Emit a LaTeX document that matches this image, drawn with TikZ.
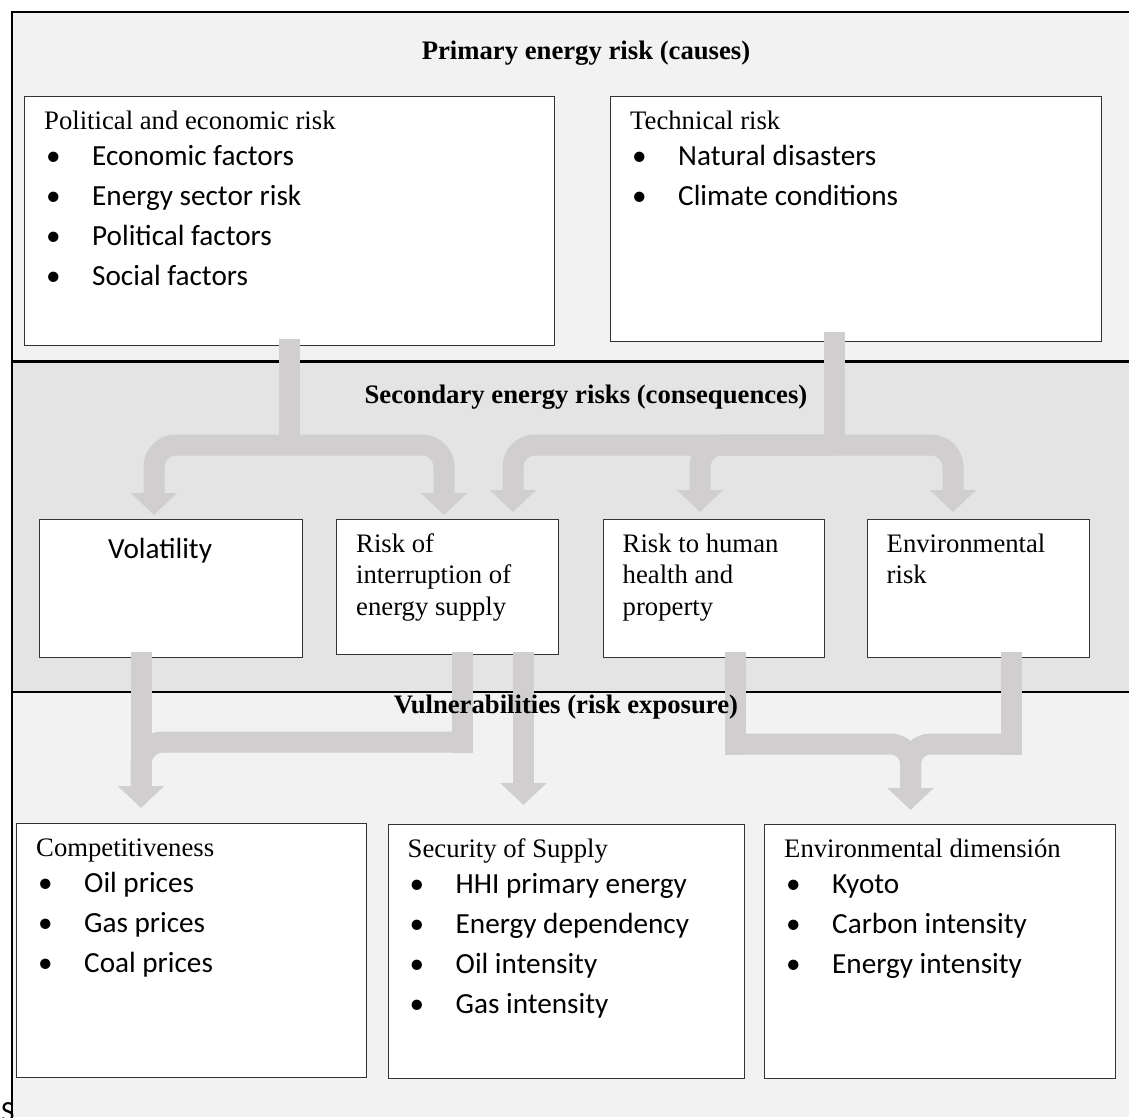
\documentclass[tikz,border=0pt]{standalone}
\usepackage{fontspec}
\setmainfont{Liberation Serif}
\newfontfamily\calibri{Carlito}
\usetikzlibrary{calc,arrows.meta}
\definecolor{flowgray}{RGB}{208,206,206}
\definecolor{bandlight}{RGB}{242,242,242}
\definecolor{banddark}{RGB}{228,228,228}
\tikzset{
  frame/.style={line width=2.3pt, black},
  riskbox/.style={draw=black!80, line width=1.1pt, fill=white, anchor=north west, inner sep=0pt},
  head/.style={anchor=base west, inner sep=0pt, font=\fontsize{26.7}{31.7}\selectfont},
  item/.style={anchor=base west, inner sep=0pt, font=\calibri\fontsize{29.2}{40}\selectfont},
  title/.style={anchor=base, inner sep=0pt, font=\fontsize{26.7}{31.7}\selectfont\bfseries},
  flow/.style={draw=flowgray, line width=21pt},
  tip/.style={-{Triangle[width=45pt,length=22pt]}}
}
\begin{document}
\begin{tikzpicture}[x=1pt,y=-1pt]
\useasboundingbox (0,0) rectangle (1129,1117);
\fill[bandlight] (12,12) rectangle (1129,361.5);
\fill[banddark] (12,361.5) rectangle (1129,692);
\fill[bandlight] (12,692) rectangle (1129,1117);
\draw[frame] (12,1117) -- (12,12) -- (1129,12);
\draw[frame] (12,361.5) -- (1129,361.5);
\draw[frame] (12,692) -- (1129,692);
\node[item, font=\calibri\fontsize{29.2}{40}\selectfont] (src) at (1,1121) {S};

\node[riskbox, minimum width=530pt, minimum height=249pt] (pe) at (24,96) {};
\node[head] (pe-head) at ($(pe.north west)+(20,33)$) {Political and economic risk};
\foreach \txt [count=\i from 0] in {Economic factors, Energy sector risk, Political factors, Social factors}
  \node[item] (pe-\i) at ($(pe.north west)+(22,69+40*\i)$) {\makebox[46pt][l]{\textbullet}\txt};

\node[riskbox, minimum width=491pt, minimum height=245pt] (tech) at (610,96) {};
\node[head] (tech-head) at ($(tech.north west)+(20,33)$) {Technical risk};
\foreach \txt [count=\i from 0] in {Natural disasters, Climate conditions}
  \node[item] (tech-\i) at ($(tech.north west)+(22,69+40*\i)$) {\makebox[46pt][l]{\textbullet}\txt};

\node[riskbox, minimum width=263pt, minimum height=138pt] (vol) at (39,519) {};
\node[item] (vol-head) at ($(vol.north west)+(69,39)$) {Volatility};
\node[riskbox, minimum width=222pt, minimum height=135pt] (intr) at (336,519) {};
\foreach \txt [count=\i from 0] in {Risk of, interruption of, energy supply}
  \node[head] (intr-\i) at ($(intr.north west)+(20,33+31.7*\i)$) {\txt};
\node[riskbox, minimum width=221.5pt, minimum height=138pt] (hum) at (602.5,519) {};
\foreach \txt [count=\i from 0] in {Risk to human, health and, property}
  \node[head] (hum-\i) at ($(hum.north west)+(20,33+31.7*\i)$) {\txt};
\node[riskbox, minimum width=222pt, minimum height=138pt] (env) at (866.5,519) {};
\foreach \txt [count=\i from 0] in {Environmental, risk}
  \node[head] (env-\i) at ($(env.north west)+(20,33+31.7*\i)$) {\txt};

\node[riskbox, minimum width=350pt, minimum height=254pt] (comp) at (16,823) {};
\node[head] (comp-head) at ($(comp.north west)+(20,33)$) {Competitiveness};
\foreach \txt [count=\i from 0] in {Oil prices, Gas prices, Coal prices}
  \node[item] (comp-\i) at ($(comp.north west)+(22,69+40*\i)$) {\makebox[46pt][l]{\textbullet}\txt};
\node[riskbox, minimum width=356.5pt, minimum height=254pt] (sec) at (387.5,824) {};
\node[head] (sec-head) at ($(sec.north west)+(20,33)$) {Security of Supply};
\foreach \txt [count=\i from 0] in {HHI primary energy, Energy dependency, Oil intensity, Gas intensity}
  \node[item] (sec-\i) at ($(sec.north west)+(22,69+40*\i)$) {\makebox[46pt][l]{\textbullet}\txt};
\node[riskbox, minimum width=350.5pt, minimum height=254pt] (envd) at (764,824) {};
\node[head] (envd-head) at ($(envd.north west)+(20,33)$) {Environmental dimensión};
\foreach \txt [count=\i from 0] in {Kyoto, Carbon intensity, Energy intensity}
  \node[item] (envd-\i) at ($(envd.north west)+(22,69+40*\i)$) {\makebox[46pt][l]{\textbullet}\txt};

\coordinate (pe-out) at (289,339);
\coordinate (pe-hub) at (289,445);
\coordinate (vol-top) at (154,515);
\coordinate (intr-top1) at (444,515);
\coordinate (tech-out) at (834,332);
\coordinate (tech-hub) at (834,445);
\coordinate (intr-top2) at (513,512);
\coordinate (hum-top) at (700,512);
\coordinate (env-top) at (953,512);
\draw[flow] (pe-out) -- (pe-hub);
\draw[flow, tip, rounded corners=22pt] (pe-hub) -| (vol-top);
\draw[flow, tip, rounded corners=22pt] (pe-hub) -| (intr-top1);
\draw[flow] (tech-out) -- (tech-hub);
\draw[flow, tip, rounded corners=22pt] (tech-hub) -| (intr-top2);
\draw[flow, tip, rounded corners=22pt] (tech-hub) -| (hum-top);
\draw[flow, tip, rounded corners=22pt] (tech-hub) -| (env-top);

\coordinate (vol-out) at (141,652);
\coordinate (comp-top) at (141,808);
\coordinate (intr-out1) at (462,652);
\coordinate (left-bar) at (472,742);
\coordinate (intr-out2) at (523.5,652);
\coordinate (sec-top) at (523.5,805);
\coordinate (hum-out) at (735.5,652);
\coordinate (env-out) at (1011.5,652);
\coordinate (bar-l) at (726,744);
\coordinate (bar-r) at (1021,744);
\coordinate (envd-top) at (910.5,810);
\draw[flow, tip] (vol-out) -- (comp-top);
\draw[flow] (intr-out1) -- ++(0,100.5);
\draw[flow, rounded corners=22pt] (left-bar) -| ($(comp-top)+(0,-24)$);
\draw[flow, tip] (intr-out2) -- (sec-top);
\draw[flow] (hum-out) -- ++(0,103);
\draw[flow] (env-out) -- ++(0,103);
\draw[flow, tip, rounded corners=20pt] (bar-l) -| (envd-top);
\draw[flow, rounded corners=20pt] (bar-r) -| ($(envd-top)+(0,-24)$);

\node[title] (primary) at (586,59) {Primary energy risk (causes)};
\node[title] (secondary) at (586,403) {Secondary energy risks (consequences)};
\node[title] (vulner) at (566,713) {Vulnerabilities (risk exposure)};
\end{tikzpicture}
\end{document}
